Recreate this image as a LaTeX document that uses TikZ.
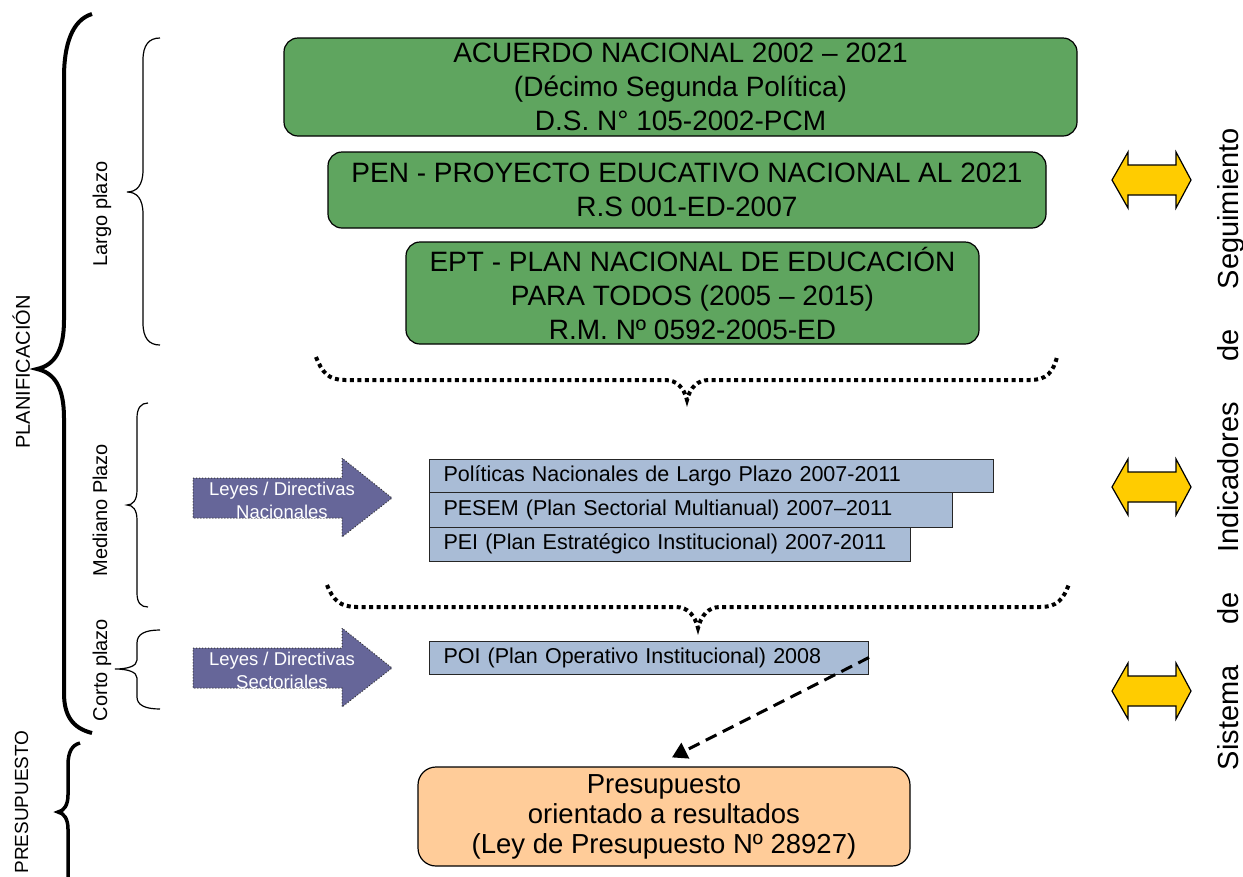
\documentclass[tikz,border=0pt]{standalone}
\usepackage{fontspec}
\setmainfont{Liberation Sans}
\usetikzlibrary{arrows.meta}
\definecolor{boxgreen}{RGB}{95,165,95}
\definecolor{boxblue}{RGB}{169,188,214}
\definecolor{boxorange}{RGB}{255,204,153}
\definecolor{arrowpurple}{RGB}{102,102,153}
\definecolor{arrowyellow}{RGB}{255,204,0}
\begin{document}
\begin{tikzpicture}[x=1pt,y=-1pt,
  greenbox/.style={draw=black, line width=1.2pt, fill=boxgreen, rounded corners=14pt,
    align=center, font=\fontsize{28}{34}\selectfont, inner sep=0pt},
  bluebox/.style={draw=black!85, line width=1pt, fill=boxblue, anchor=west, align=left,
    font=\fontsize{21.5}{24}\selectfont, inner xsep=14pt, inner ysep=0pt},
  orangebox/.style={draw=black, line width=1.2pt, fill=boxorange, rounded corners=18pt,
    align=center, font=\fontsize{27.5}{30}\selectfont, inner sep=0pt},
  sidelabel/.style={rotate=90, anchor=base, font=\fontsize{20}{20}\selectfont, inner sep=0pt},
  thinbrace/.style={draw=black, line width=1.2pt},
  thickbrace/.style={draw=black, line width=4pt},
  dotbrace/.style={draw=black, line width=4pt, dash pattern=on 4pt off 3.5pt},
  purplearrow/.style={fill=arrowpurple, draw=black!80, line width=1pt, dotted},
  arrowtext/.style={text=white, align=center, font=\fontsize{18.5}{23}\selectfont, inner sep=0pt},
  yellowarrow/.style={fill=arrowyellow, draw=black, line width=1.2pt},
  dasharrow/.style={draw=black, line width=3pt, dash pattern=on 12pt off 7pt,
    -{Triangle[length=15pt,width=17pt]}}
]
\useasboundingbox (0,0) rectangle (1243,876);

% green boxes
\node[greenbox, minimum width=793pt, minimum height=98pt] (acuerdo) at (680.5,87)
  {ACUERDO NACIONAL 2002 -- 2021\\(Décimo Segunda Política)\\D.S. N° 105-2002-PCM};
\node[greenbox, minimum width=718pt, minimum height=76pt] (pen) at (687,190)
  {PEN - PROYECTO EDUCATIVO NACIONAL AL 2021\\R.S 001-ED-2007};
\node[greenbox, minimum width=573pt, minimum height=102pt] (ept) at (692.5,293)
  {EPT - PLAN NACIONAL DE EDUCACIÓN\\PARA TODOS (2005 -- 2015)\\R.M. Nº 0592-2005-ED};

% dotted braces
\draw[dotbrace] (316,357) .. controls (322,372) and (328,380) .. (345,380) -- (665,380)
  .. controls (677,380) and (684,388) .. (687,400) .. controls (690,388) and (697,380) .. (709,380)
  -- (1030,380) .. controls (1047,380) and (1053,372) .. (1057,357);
\draw[dotbrace] (327,585) .. controls (333,600) and (340,607) .. (357,607) -- (676,607)
  .. controls (688,607) and (695,616) .. (698,628) .. controls (701,616) and (708,607) .. (720,607)
  -- (1040,607) .. controls (1057,607) and (1063,600) .. (1069,584);

% blue boxes
\node[bluebox, text width=536pt, minimum height=33pt] (pol) at (429,475.5)
  {\mbox{Políticas Nacionales de Largo Plazo 2007-2011}};
\node[bluebox, text width=495pt, minimum height=35pt] (pesem) at (429,509.5)
  {\mbox{PESEM (Plan Sectorial Multianual) 2007--2011}};
\node[bluebox, text width=453pt, minimum height=34pt] (pei) at (429,544)
  {\mbox{PEI (Plan Estratégico Institucional) 2007-2011}};
\node[bluebox, text width=411pt, minimum height=33pt] (poi) at (429,657.5)
  {\mbox{POI (Plan Operativo Institucional) 2008}};

% purple arrows
\draw[purplearrow] (193,478) -- (342,478) -- (342,458) -- (392,498) -- (342,537) -- (342,518) -- (193,518) -- cycle;
\draw[purplearrow] (193,648) -- (342,648) -- (342,628) -- (392,668) -- (342,707) -- (342,688) -- (193,688) -- cycle;
\node[arrowtext] (lnac) at (282,500) {Leyes / Directivas\\Nacionales};
\node[arrowtext] (lsec) at (282,670) {Leyes / Directivas\\Sectoriales};

% orange box
\node[orangebox, minimum width=492pt, minimum height=99pt] (presu) at (664,816.5)
  {Presupuesto\\orientado a resultados\\(Ley de Presupuesto Nº 28927)};

% dashed connector
\draw[dasharrow] (poi.east) -- ([shift={(8,-9)}]presu.north);

% yellow double arrows
\foreach \c in {180,487,691}{
  \draw[yellowarrow] (1112,\c) -- (1128,\c-28) -- (1128,\c-15) -- (1176,\c-15) -- (1176,\c-28)
    -- (1191,\c) -- (1176,\c+28) -- (1176,\c+15) -- (1128,\c+15) -- (1128,\c+28) -- cycle;
}

% right vertical text
\node[rotate=90, anchor=base, inner sep=0pt, font=\fontsize{29}{29}\selectfont] (sis) at (1238,449)
  {\hbox to 642pt{Sistema\hfill de\hfill Indicadores\hfill de\hfill Seguimiento}};

% big braces
\draw[thickbrace] (92,14) .. controls (72,20) and (64,45) .. (64,77) -- (64,320)
  .. controls (64,350) and (55,365) .. (37,369) .. controls (55,373) and (64,388) .. (64,418)
  -- (64,693) .. controls (64,715) and (72,728) .. (92,733);
\draw[draw=black, line width=3.5pt] (80,743) .. controls (72,745) and (68,752) .. (68,765) -- (68,795)
  .. controls (68,805) and (64,811) .. (58,812) .. controls (64,813) and (68,819) .. (68,829) -- (68,890);

% thin braces
\draw[thinbrace] (160,38) .. controls (149,38) and (143,45) .. (143,60) -- (143,170)
  .. controls (143,185) and (137,192) .. (127,192) .. controls (137,192) and (143,199) .. (143,214)
  -- (143,323) .. controls (143,338) and (149,345) .. (160,345);
\draw[thinbrace] (148,403) .. controls (141,403) and (137,408) .. (137,418) -- (137,490)
  .. controls (137,500) and (133,505) .. (127,505) .. controls (133,505) and (137,510) .. (137,520)
  -- (137,593) .. controls (137,603) and (141,607) .. (148,607);
\draw[thinbrace] (160,630) .. controls (145,630) and (137,634) .. (137,643) -- (137,660)
  .. controls (137,666) and (128,669) .. (115,669) .. controls (128,669) and (137,672) .. (137,678)
  -- (137,697) .. controls (137,705) and (145,709) .. (160,709);

% side labels
\node[sidelabel] (plan) at (30,372) {PLANIFICACIÓN};
\node[sidelabel, font=\fontsize{19}{19}\selectfont] (pres) at (28,802) {PRESUPUESTO};
\node[sidelabel] (largo) at (107,214) {Largo plazo};
\node[sidelabel] (mediano) at (107,510) {Mediano Plazo};
\node[sidelabel] (corto) at (107,670) {Corto plazo};
\end{tikzpicture}
\end{document}
